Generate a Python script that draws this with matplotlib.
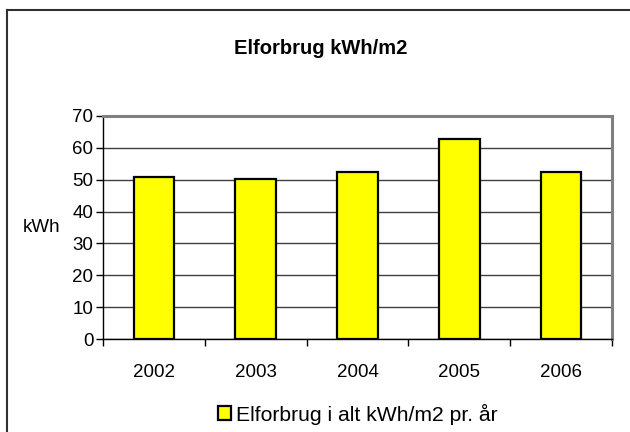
import matplotlib
matplotlib.use("Agg")
import matplotlib.pyplot as plt
from matplotlib.lines import Line2D
from matplotlib.patches import Patch
import numpy as np

plt.rcParams['font.family'] = ['Liberation Sans', 'DejaVu Sans']

years = ["2002", "2003", "2004", "2005", "2006"]
values = [50.8, 50.3, 52.4, 62.8, 52.4]
yticks = [0, 10, 20, 30, 40, 50, 60, 70]
title = "Elforbrug kWh/m2"
ylabel = "kWh"
legend_label = "Elforbrug i alt kWh/m2 pr. år"

W, H = 630, 432
fig = plt.figure(figsize=(W / 100, H / 100), dpi=100)

ax = fig.add_axes([103 / W, 1 - 339 / H, (612 - 103) / W, (339 - 116) / H])
x = np.arange(len(years))
ax.bar(x, values, width=0.4, color="#FFFF00", edgecolor="black", linewidth=1.6, zorder=3)
ax.set_xlim(-0.5, len(years) - 0.5)
ax.set_ylim(0, 70)
ax.set_yticks(yticks)
ax.set_yticklabels([str(t) for t in yticks], fontsize=13.5)
ax.set_xticks(x)
ax.set_xticklabels(years, fontsize=13.5)
ax.tick_params(axis='x', which='major', length=0, pad=18)
ax.set_xticks(np.arange(-0.5, len(years), 1.0), minor=True)
ax.tick_params(axis='x', which='minor', length=5, width=1, color='black', direction='out')
ax.tick_params(axis='y', length=5, width=1, color='black', direction='out', pad=2)
ax.yaxis.grid(True, color='#404040', linewidth=1, zorder=0)
ax.set_axisbelow(True)
for s in ['left', 'bottom']:
    ax.spines[s].set_color('black')
    ax.spines[s].set_linewidth(1)
for s in ['top', 'right']:
    ax.spines[s].set_color('#808080')
    ax.spines[s].set_linewidth(2.2)

fig.text(321 / W, 1 - 48 / H, title, ha='center', va='center', fontsize=14.5, fontweight='bold')
fig.text(60 / W, 1 - 228 / H, ylabel, ha='right', va='center', fontsize=13.5)

handle = Patch(facecolor="#FFFF00", edgecolor="black", linewidth=1.6)
fig.legend([handle], [legend_label], loc='center', bbox_to_anchor=(358 / W, 1 - 414 / H),
           frameon=False, fontsize=15.2, handlelength=0.6, handleheight=0.6,
           handletextpad=0.25, borderpad=0)

fig.add_artist(Line2D([7 / W, 1.0], [1 - 10 / H, 1 - 10 / H], transform=fig.transFigure,
                      color='#303030', linewidth=1.5))
fig.add_artist(Line2D([7 / W, 7 / W], [1 - 10 / H, 0.0], transform=fig.transFigure,
                      color='#303030', linewidth=1.5))

fig.savefig("out.png", dpi=100)
